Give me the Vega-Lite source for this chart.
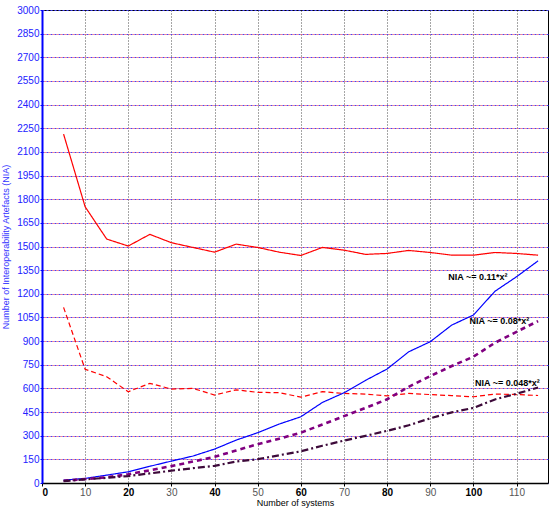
{
  "$schema": "https://vega.github.io/schema/vega-lite/v6.json",
  "width": 506,
  "height": 473,
  "autosize": {"type": "none"},
  "padding": {"left": 42, "top": 10, "right": 4, "bottom": 27},
  "background": "white",
  "config": {
    "font": "Liberation Sans",
    "view": {"stroke": "black", "strokeWidth": 1}
  },
  "datasets": {
    "series": [
      {"x": 5, "s": "redsolid", "v": 2213}, {"x": 10, "s": "redsolid", "v": 1752}, {"x": 15, "s": "redsolid", "v": 1547}, {"x": 20, "s": "redsolid", "v": 1503}, {"x": 25, "s": "redsolid", "v": 1577}, {"x": 30, "s": "redsolid", "v": 1524}, {"x": 35, "s": "redsolid", "v": 1494}, {"x": 40, "s": "redsolid", "v": 1464}, {"x": 45, "s": "redsolid", "v": 1515}, {"x": 50, "s": "redsolid", "v": 1494}, {"x": 55, "s": "redsolid", "v": 1464}, {"x": 60, "s": "redsolid", "v": 1443}, {"x": 65, "s": "redsolid", "v": 1494}, {"x": 70, "s": "redsolid", "v": 1477}, {"x": 75, "s": "redsolid", "v": 1450}, {"x": 80, "s": "redsolid", "v": 1456}, {"x": 85, "s": "redsolid", "v": 1475}, {"x": 90, "s": "redsolid", "v": 1462}, {"x": 95, "s": "redsolid", "v": 1445}, {"x": 100, "s": "redsolid", "v": 1445}, {"x": 105, "s": "redsolid", "v": 1462}, {"x": 110, "s": "redsolid", "v": 1456}, {"x": 115, "s": "redsolid", "v": 1445},
      {"x": 5, "s": "reddash", "v": 1114}, {"x": 10, "s": "reddash", "v": 721}, {"x": 15, "s": "reddash", "v": 674}, {"x": 20, "s": "reddash", "v": 579}, {"x": 25, "s": "reddash", "v": 632}, {"x": 30, "s": "reddash", "v": 596}, {"x": 35, "s": "reddash", "v": 600}, {"x": 40, "s": "reddash", "v": 558}, {"x": 45, "s": "reddash", "v": 591}, {"x": 50, "s": "reddash", "v": 575}, {"x": 55, "s": "reddash", "v": 573}, {"x": 60, "s": "reddash", "v": 545}, {"x": 65, "s": "reddash", "v": 579}, {"x": 70, "s": "reddash", "v": 568}, {"x": 75, "s": "reddash", "v": 564}, {"x": 80, "s": "reddash", "v": 552}, {"x": 85, "s": "reddash", "v": 568}, {"x": 90, "s": "reddash", "v": 561}, {"x": 95, "s": "reddash", "v": 554}, {"x": 100, "s": "reddash", "v": 547}, {"x": 105, "s": "reddash", "v": 564}, {"x": 110, "s": "reddash", "v": 561}, {"x": 115, "s": "reddash", "v": 555},
      {"x": 5, "s": "blue", "v": 18}, {"x": 10, "s": "blue", "v": 29}, {"x": 15, "s": "blue", "v": 50}, {"x": 20, "s": "blue", "v": 71}, {"x": 25, "s": "blue", "v": 106}, {"x": 30, "s": "blue", "v": 139}, {"x": 35, "s": "blue", "v": 171}, {"x": 40, "s": "blue", "v": 215}, {"x": 45, "s": "blue", "v": 272}, {"x": 50, "s": "blue", "v": 319}, {"x": 55, "s": "blue", "v": 374}, {"x": 60, "s": "blue", "v": 420}, {"x": 65, "s": "blue", "v": 511}, {"x": 70, "s": "blue", "v": 572}, {"x": 75, "s": "blue", "v": 651}, {"x": 80, "s": "blue", "v": 723}, {"x": 85, "s": "blue", "v": 832}, {"x": 90, "s": "blue", "v": 896}, {"x": 95, "s": "blue", "v": 1002}, {"x": 100, "s": "blue", "v": 1065}, {"x": 105, "s": "blue", "v": 1216}, {"x": 110, "s": "blue", "v": 1308}, {"x": 115, "s": "blue", "v": 1409},
      {"x": 5, "s": "purple", "v": 14}, {"x": 10, "s": "purple", "v": 25}, {"x": 15, "s": "purple", "v": 36}, {"x": 20, "s": "purple", "v": 55}, {"x": 25, "s": "purple", "v": 81}, {"x": 30, "s": "purple", "v": 107}, {"x": 35, "s": "purple", "v": 136}, {"x": 40, "s": "purple", "v": 166}, {"x": 45, "s": "purple", "v": 206}, {"x": 50, "s": "purple", "v": 246}, {"x": 55, "s": "purple", "v": 281}, {"x": 60, "s": "purple", "v": 319}, {"x": 65, "s": "purple", "v": 371}, {"x": 70, "s": "purple", "v": 424}, {"x": 75, "s": "purple", "v": 476}, {"x": 80, "s": "purple", "v": 531}, {"x": 85, "s": "purple", "v": 610}, {"x": 90, "s": "purple", "v": 678}, {"x": 95, "s": "purple", "v": 742}, {"x": 100, "s": "purple", "v": 801}, {"x": 105, "s": "purple", "v": 889}, {"x": 110, "s": "purple", "v": 959}, {"x": 115, "s": "purple", "v": 1027},
      {"x": 5, "s": "dashdot", "v": 12}, {"x": 10, "s": "dashdot", "v": 23}, {"x": 15, "s": "dashdot", "v": 33}, {"x": 20, "s": "dashdot", "v": 44}, {"x": 25, "s": "dashdot", "v": 61}, {"x": 30, "s": "dashdot", "v": 78}, {"x": 35, "s": "dashdot", "v": 94}, {"x": 40, "s": "dashdot", "v": 109}, {"x": 45, "s": "dashdot", "v": 136}, {"x": 50, "s": "dashdot", "v": 151}, {"x": 55, "s": "dashdot", "v": 176}, {"x": 60, "s": "dashdot", "v": 201}, {"x": 65, "s": "dashdot", "v": 236}, {"x": 70, "s": "dashdot", "v": 269}, {"x": 75, "s": "dashdot", "v": 299}, {"x": 80, "s": "dashdot", "v": 331}, {"x": 85, "s": "dashdot", "v": 366}, {"x": 90, "s": "dashdot", "v": 410}, {"x": 95, "s": "dashdot", "v": 448}, {"x": 100, "s": "dashdot", "v": 476}, {"x": 105, "s": "dashdot", "v": 530}, {"x": 110, "s": "dashdot", "v": 566}, {"x": 115, "s": "dashdot", "v": 606}
    ],
    "notes": [
      {"x": 94.2, "v": 1287, "t": "NIA ~= 0.11*x²"},
      {"x": 99.1, "v": 1006, "t": "NIA ~= 0.08*x²"},
      {"x": 100.4, "v": 617, "t": "NIA ~= 0.048*x²"}
    ]
  },
  "resolve": {"axis": {"y": "independent"}},
  "layer": [
    {
      "data": {"name": "series"},
      "transform": [{"filter": "datum.s === 'redsolid' || datum.s === 'reddash' || datum.s === 'blue'"}],
      "mark": {"type": "line", "clip": true, "strokeWidth": 1.2},
      "encoding": {
        "x": {
          "field": "x", "type": "quantitative",
          "scale": {"domain": [0, 117.3], "nice": false, "zero": false},
          "axis": {
            "values": [0, 10, 20, 30, 40, 50, 60, 70, 80, 90, 100, 110],
            "title": "Number of systems",
            "titleFont": "Liberation Sans", "titleFontSize": 9, "titleFontWeight": "normal", "titleColor": "black", "titlePadding": 1,
            "labelFontSize": 10, "labelPadding": 1,
            "labelColor": {"condition": {"test": "datum.value % 20 === 0", "value": "black"}, "value": "#555555"},
            "labelFontWeight": {"condition": {"test": "datum.value % 20 === 0", "value": "bold"}, "value": "normal"},
            "domainColor": "black", "domainWidth": 1.5,
            "tickColor": "black", "tickSize": 3,
            "grid": true, "gridColor": "#222222", "gridDash": [1, 2], "gridWidth": 1, "gridOpacity": 0.8
          }
        },
        "y": {
          "field": "v", "type": "quantitative",
          "scale": {"domain": [0, 3000], "nice": false},
          "axis": {
            "values": [0, 150, 300, 450, 600, 750, 900, 1050, 1200, 1350, 1500, 1650, 1800, 1950, 2100, 2250, 2400, 2550, 2700, 2850, 3000],
            "format": "d",
            "title": "Number of Interoperability Artefacts (NIA)",
            "titleFont": "Liberation Sans", "titleFontSize": 9, "titleFontWeight": "normal", "titleColor": "#3333ff", "titlePadding": 6,
            "labelFontSize": 10, "labelColor": "#2222ff", "labelPadding": 1,
            "domainColor": "#0000ff", "domainWidth": 2,
            "tickColor": "#0000ff", "tickSize": 2,
            "grid": true, "gridColor": "#4444ff", "gridDash": [2, 2], "gridWidth": 1.2
          }
        },
        "color": {
          "field": "s", "type": "nominal", "legend": null,
          "scale": {"domain": ["redsolid", "reddash", "blue"], "range": ["#ff0000", "#ff0000", "#0000ff"]}
        },
        "strokeDash": {
          "field": "s", "type": "nominal", "legend": null,
          "scale": {"domain": ["redsolid", "reddash", "blue"], "range": [[1, 0], [5, 3], [1, 0]]}
        }
      }
    },
    {
      "data": {"name": "series"},
      "mark": {"type": "line", "opacity": 0},
      "encoding": {
        "x": {"field": "x", "type": "quantitative"},
        "y": {
          "field": "v", "type": "quantitative",
          "axis": {
            "orient": "left",
            "values": [150, 300, 450, 600, 750, 900, 1050, 1200, 1350, 1500, 1650, 1800, 1950, 2100, 2250, 2400, 2550, 2700, 2850],
            "title": null, "labels": false, "ticks": false, "domain": false,
            "grid": true, "gridColor": "#ff5555", "gridDash": [2, 2], "gridDashOffset": 2, "gridWidth": 1.2, "gridOpacity": 0.7
          }
        },
        "detail": {"field": "s"}
      }
    },
    {
      "data": {"name": "series"},
      "transform": [{"filter": "datum.s === 'purple'"}],
      "mark": {"type": "line", "color": "#800080", "strokeWidth": 2.6, "strokeDash": [5, 4]},
      "encoding": {
        "x": {"field": "x", "type": "quantitative"},
        "y": {"field": "v", "type": "quantitative", "axis": null}
      }
    },
    {
      "data": {"name": "series"},
      "transform": [{"filter": "datum.s === 'dashdot'"}],
      "mark": {"type": "line", "color": "#3d0a3a", "strokeWidth": 2.2, "strokeDash": [7, 3, 2, 3]},
      "encoding": {
        "x": {"field": "x", "type": "quantitative"},
        "y": {"field": "v", "type": "quantitative", "axis": null}
      }
    },
    {
      "data": {"name": "notes"},
      "mark": {"type": "text", "align": "left", "baseline": "alphabetic", "font": "Liberation Sans", "fontSize": 9, "fontWeight": "bold", "color": "black"},
      "encoding": {
        "x": {"field": "x", "type": "quantitative"},
        "y": {"field": "v", "type": "quantitative", "axis": null},
        "text": {"field": "t"}
      }
    }
  ]
}
